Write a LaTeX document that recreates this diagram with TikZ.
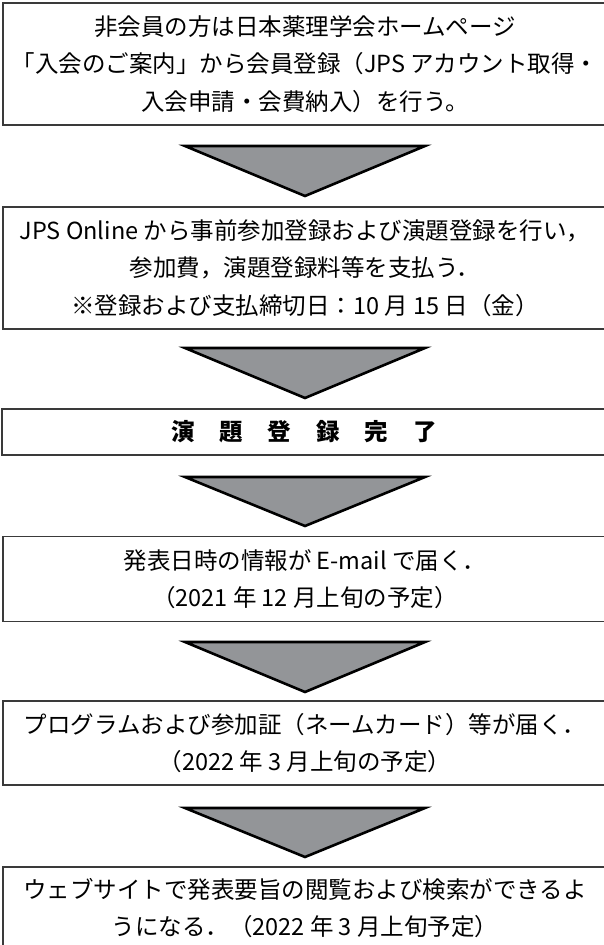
\documentclass[tikz,border=0pt]{standalone}
\usepackage{fontspec}
\newfontfamily\cjk{Noto Sans CJK JP}
\definecolor{trigray}{HTML}{939598}
\definecolor{boxline}{HTML}{3A3A3A}
\begin{document}
\begin{tikzpicture}[x=1pt,y=-1pt,
  stepbox/.style={draw=boxline,line width=1.1pt,minimum width=604pt,inner sep=0pt,align=center,
    font=\cjk\fontsize{23.5}{37.5}\selectfont},
  downtri/.style={fill=trigray,draw=black,line width=2.6pt,line join=miter}]
\useasboundingbox (0,0) rectangle (603,945);
\fill[white] (0,0) rectangle (603,945);
\node[stepbox,minimum height=122pt] (b1) at (305,64) {非会員の方は日本薬理学会ホームページ\\「入会のご案内」から会員登録（JPS アカウント取得・\\入会申請・会費納入）を行う。};
\node[stepbox,minimum height=122pt] (b2) at (305,268) {JPS Online から事前参加登録および演題登録を行い，\\参加費，演題登録料等を支払う．\\※登録および支払締切日：10 月 15 日（金）};
\node[stepbox,minimum height=46pt,font=\cjk\bfseries\fontsize{23.5}{26}\selectfont] (b3) at (304,432) {演\hspace{25pt}題\hspace{25pt}登\hspace{25pt}録\hspace{25pt}完\hspace{25pt}了};
\node[stepbox,minimum height=85pt] (b4) at (305,579) {発表日時の情報が E-mail で届く．\\（2021 年 12 月上旬の予定）};
\node[stepbox,minimum height=84pt] (b5) at (305,743) {プログラムおよび参加証（ネームカード）等が届く．\\（2022 年 3 月上旬の予定）};
\node[stepbox,minimum height=82pt] (b6) at (305,908) {ウェブサイトで発表要旨の閲覧および検索ができるよ\\うになる．（2022 年 3 月上旬予定）};
\foreach \t/\b in {146/196,348/398,477/526,642/692,808/857}{
  \draw[downtri] (185,\t) -- (425,\t) -- (305,\b) -- cycle;
}
\end{tikzpicture}
\end{document}
